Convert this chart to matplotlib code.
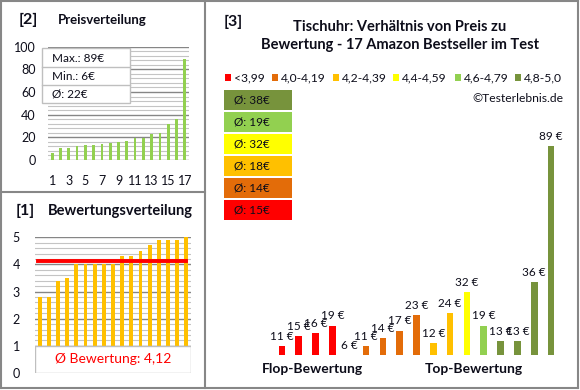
import matplotlib
matplotlib.use("Agg")
import matplotlib.pyplot as plt
import numpy as np
from matplotlib.patches import Rectangle
from matplotlib.lines import Line2D

plt.rcParams['font.family'] = ['Lato', 'DejaVu Sans']

# Daten: Preise in Reihenfolge der Bewertung (Flop -> Top)
preise = [11, 15, 16, 19, 6, 11, 14, 17, 23, 12, 24, 32, 19, 13, 13, 36, 89]
bewertungen = [2.8, 2.8, 3.4, 3.5, 4.0, 4.0, 4.0, 4.0, 4.0, 4.3, 4.3, 4.5, 4.7, 4.9, 4.9, 4.9, 5.0]
gruppen = ['<3,99', '4,0-4,19', '4,2-4,39', '4,4-4,59', '4,6-4,79', '4,8-5,0']
gruppen_farben = ['#FF0000', '#E36C09', '#FFC000', '#FFFF00', '#92D050', '#77933C']
grenzen = [3.995, 4.195, 4.395, 4.595, 4.795]

W, H = 580, 390
textfarbe = '#0D0D1A'
rahmen = '#878787'


def box(x0, y0, x1, y1):
    # Pixelbox (oben links -> unten rechts) in Figure-Koordinaten
    return [x0 / W, 1 - y1 / H, (x1 - x0) / W, (y1 - y0) / H]


def ftext(x, y, s, **kw):
    kw.setdefault('color', textfarbe)
    fig.text(x / W, 1 - y / H, s, **kw)


def fline(x0, y0, x1, y1, **kw):
    fig.add_artist(Line2D([x0 / W, x1 / W], [1 - y0 / H, 1 - y1 / H],
                          transform=fig.transFigure, **kw))


fig = plt.figure(figsize=(5.8, 3.9), dpi=100)

# Rahmen der drei Bereiche
fline(1, 1, 578, 1, color=rahmen, lw=1.5)
fline(1, 388, 578, 388, color=rahmen, lw=1.5)
fline(1, 1, 1, 388, color=rahmen, lw=1.5)
fline(578, 1, 578, 388, color=rahmen, lw=1.5)
fline(205, 1, 205, 388, color=rahmen, lw=1.5)
fline(1, 192, 205, 192, color=rahmen, lw=1.5)

n = len(preise)
pos = np.arange(1, n + 1)

# [2] Preisverteilung
ax2 = fig.add_axes(box(48, 46.7, 189, 160))
ax2.bar(pos, sorted(preise), width=0.33, color='#92D050', zorder=3)
ax2.set_xlim(0.5, n + 0.5)
ax2.set_ylim(0, 100)
ax2.set_yticks(range(0, 101, 20))
ax2.set_yticks(range(0, 101, 4), minor=True)
ax2.set_xticks(pos[::2])
ax2.grid(True, which='major', axis='y', color='#868686', lw=1)
ax2.grid(True, which='minor', axis='y', color='#C4C4C4', lw=0.8)
ax2.tick_params(which='both', length=0, labelsize=9, colors=textfarbe)
ax2.tick_params(axis='y', pad=9)
ax2.tick_params(axis='x', pad=11)
for s in ax2.spines.values():
    s.set_visible(False)

ftext(28, 20, '[2]', fontsize=11.5, fontweight='bold', ha='center', va='center')
ftext(58, 20, 'Preisverteilung', fontsize=9.5, fontweight='bold', ha='left', va='center')

fig.add_artist(Rectangle((42 / W, 1 - 103 / H), 88 / W, 55 / H, transform=fig.transFigure,
                         facecolor='white', edgecolor='#BFBFBF', lw=1))
fline(42, 67, 130, 67, color='#BFBFBF', lw=1)
fline(42, 85, 130, 85, color='#BFBFBF', lw=1)
ftext(52, 58, f'Max.: {max(preise)}€', fontsize=8.5, va='center')
ftext(52, 76, f'Min.: {min(preise)}€', fontsize=8.5, va='center')
ftext(52, 94, f'Ø: {round(np.mean(preise))}€', fontsize=8.5, va='center')

# [1] Bewertungsverteilung
ax1 = fig.add_axes(box(35, 237.3, 191, 373))
ax1.bar(pos, sorted(bewertungen), width=0.42, color='#FFC000', zorder=3)
mittel = np.mean(bewertungen)
ax1.plot([0.8, n], [mittel, mittel], color='#FF0000', lw=2.8, zorder=4)
ax1.set_xlim(0.5, n + 0.5)
ax1.set_ylim(0, 5)
ax1.set_yticks(range(0, 6))
ax1.set_yticks(np.arange(0, 5.01, 0.2), minor=True)
ax1.set_xticks([])
ax1.grid(True, which='major', axis='y', color='#868686', lw=1)
ax1.grid(True, which='minor', axis='y', color='#C4C4C4', lw=0.8)
ax1.tick_params(which='both', length=0, labelsize=9, colors=textfarbe, pad=11)
for s in ax1.spines.values():
    s.set_visible(False)
ax1.add_patch(Rectangle((0.5, 0), n, 1, facecolor='white', edgecolor='#BFBFBF', lw=1, zorder=5))
ax1.text((n + 1) / 2, 0.5, 'Ø Bewertung: ' + f'{mittel:.2f}'.replace('.', ','),
         color='#FF0000', fontsize=10, ha='center', va='center', zorder=6)

ftext(25, 211, '[1]', fontsize=11.5, fontweight='bold', ha='center', va='center')
ftext(48, 211, 'Bewertungsverteilung', fontsize=10.5, fontweight='bold', ha='left', va='center')

# [3] Verhältnis Preis zu Bewertung
gruppe = np.searchsorted(grenzen, bewertungen)
farben = [gruppen_farben[g] for g in gruppe]
ymin = 7.5
ax3 = fig.add_axes(box(273.6, 118, 559.4, 355))
ax3.bar(np.arange(n), preise, width=0.4, color=farben)
ax3.set_xlim(-0.5, n - 0.5)
ax3.set_ylim(ymin, 100)
ax3.axis('off')
for i, v in enumerate(preise):
    ax3.annotate(f'{v} €', (i, max(v, ymin)), xytext=(0, 3), textcoords='offset points',
                 ha='center', va='bottom', fontsize=8.5, color=textfarbe, annotation_clip=False)

ftext(233, 22, '[3]', fontsize=11.5, fontweight='bold', ha='center', va='center')
ftext(400, 36, 'Tischuhr: Verhältnis von Preis zu\nBewertung - 17 Amazon Bestseller im Test',
      fontsize=10.5, fontweight='bold', ha='center', va='center', linespacing=1.35)

leg_x = [225, 272, 333, 393, 455, 515]
for x, lab, c in zip(leg_x, gruppen, gruppen_farben):
    fig.add_artist(Rectangle((x / W, 1 - 81 / H), 6 / W, 7 / H, transform=fig.transFigure,
                             facecolor=c, edgecolor='none'))
    ftext(x + 9, 77.5, lab, fontsize=8.7, va='center')

ftext(563, 98, '©Testerlebnis.de', fontsize=8.7, ha='right', va='center')

# Durchschnittspreis je Bewertungsgruppe, beste Gruppe oben
for k, g in enumerate(range(len(gruppen) - 1, -1, -1)):
    werte = [p for p, gg in zip(preise, gruppe) if gg == g]
    y0 = 90 + k * 22
    fig.add_artist(Rectangle((224 / W, 1 - (y0 + 20) / H), 68 / W, 20 / H,
                             transform=fig.transFigure, facecolor=gruppen_farben[g], edgecolor='none'))
    ftext(234, y0 + 10, f'Ø: {round(np.mean(werte))}€', fontsize=8.5, va='center')

ftext(312, 369, 'Flop-Bewertung', fontsize=10, fontweight='bold', ha='center', va='center')
ftext(474, 369, 'Top-Bewertung', fontsize=10, fontweight='bold', ha='center', va='center')

plt.savefig('out.png', dpi=100)
